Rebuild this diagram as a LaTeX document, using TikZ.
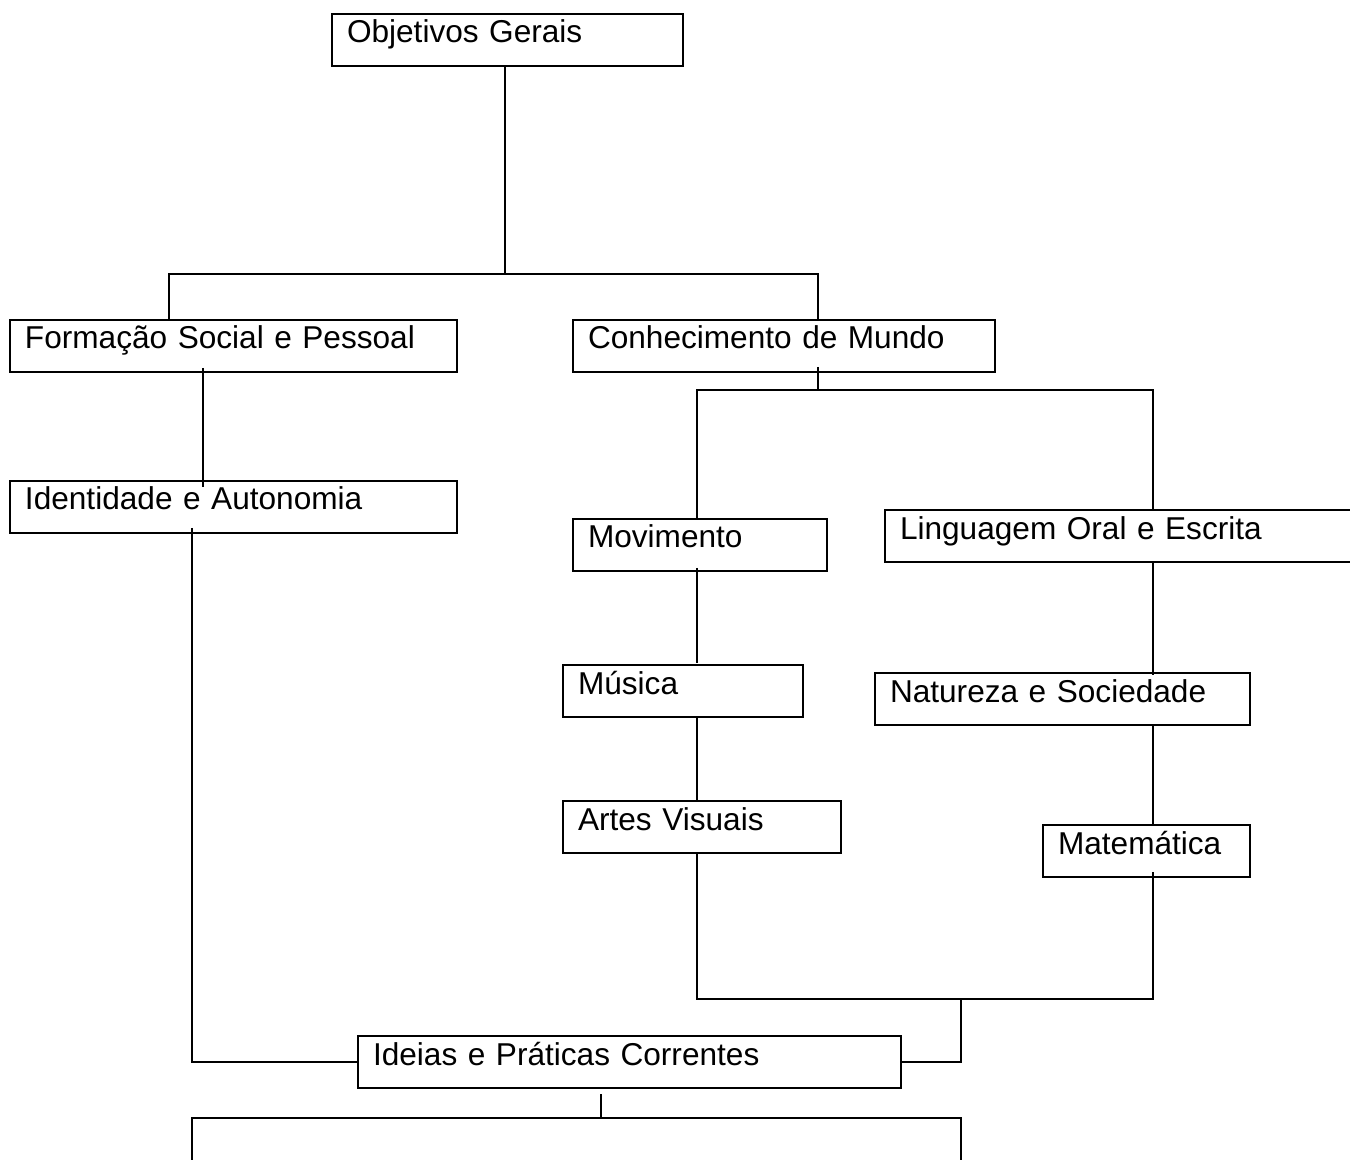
\documentclass[tikz,border=0pt]{standalone}
\usepackage{fontspec}
\setmainfont{Liberation Sans}
\usetikzlibrary{positioning}

\begin{document}
\begin{tikzpicture}[
        x=0.5pt, y=-0.5pt,
        box/.style={rectangle, draw=black, line width=1pt, fill=white, anchor=north west, text width=#1, align=left, inner xsep=7.5pt, inner ysep=0pt, outer sep=0pt, text height=14.5pt, text depth=11.5pt, font=\fontsize{15.8}{19}\selectfont},
        link/.style={draw=black, line width=0.75pt}
    ]
        \path[use as bounding box, clip] (0,0) rectangle (1350,1160);
        \fill[white] (0,0) rectangle (1350,1160);

        % Top level
        \node[box=160.5pt] (obj) at (332,14) {Objetivos Gerais};

        % Left branch
        \node[box=208.5pt] (frm) at (10,320) {Formação Social e Pessoal};
        \node[box=208.5pt, below=54.5pt of frm.south west, anchor=north west] (ida) {Identidade e Autonomia};

        % Right branch
        \node[box=196pt] (cmu) at (573,320) {Conhecimento de Mundo};
        \node[box=112pt, below=73.5pt of cmu.south west, anchor=north west] (mov) {Movimento};
        \node[box=105pt, below=47pt of mov.south west, anchor=north west, xshift=-5pt] (mus) {Música};
        \node[box=124pt, below=42pt of mus.south west, anchor=north west] (art) {Artes Visuais};
        \node[box=220pt] (lng) at (885,510) {Linguagem Oral e Escrita};
        \node[box=172.5pt, below=55.5pt of lng.south west, anchor=north west, xshift=-5pt] (nat) {Natureza e Sociedade};
        \node[box=88.5pt, below=50pt of nat.south east, anchor=north east] (mat) {Matemática};

        % Bottom level
        \node[box=256.5pt] (ipc) at (358,1036) {Ideias e Práticas Correntes};
        \node[box=369.5pt, minimum height=60pt, below=15pt of ipc.south west, anchor=north west, xshift=-83pt] (base) {};

        % Connections
        \draw[link] ([xshift=-1.25pt]obj.south) -- ++(0,208) coordinate (objbus);
        \draw[link] ([xshift=79.5pt]frm.north west) |- (objbus) -| ([xshift=122.5pt]cmu.north west);
        \draw[link] ([xshift=96.5pt,yshift=2pt]frm.south west) -- ([xshift=96.5pt,yshift=-3pt]ida.north west);
        \draw[link] ([xshift=91pt,yshift=2.5pt]ida.south west) |- (ipc.west);
        \draw[link] ([xshift=122.5pt,yshift=2.5pt]cmu.south west) -- ++(0,23) coordinate (cmubus);
        \draw[link] ([xshift=62pt]mov.north west) |- (cmubus) -| ([xshift=134pt]lng.north west);
        \draw[link] ([xshift=62pt,yshift=1.5pt]mov.south west) -- ([xshift=67pt,yshift=1pt]mus.north west);
        \draw[link] ([xshift=67pt]mus.south west) -- ([xshift=67pt]art.north west);
        \draw[link] ([xshift=134pt]lng.south west) -- ([xshift=139pt,yshift=-1pt]nat.north west);
        \draw[link] ([xshift=139pt]nat.south west) -- ([xshift=55pt]mat.north west);
        \draw[link] ([xshift=67pt]art.south west) -- ++(0,146) coordinate (artbus) -| ([xshift=55pt,yshift=2.5pt]mat.south west);
        \draw[link] (ipc.east) -| ([xshift=132pt]artbus);
        \draw[link] ([xshift=121.5pt,yshift=-3pt]ipc.south west) -- ([xshift=204.5pt]base.north west);
    \end{tikzpicture}
\end{document}
